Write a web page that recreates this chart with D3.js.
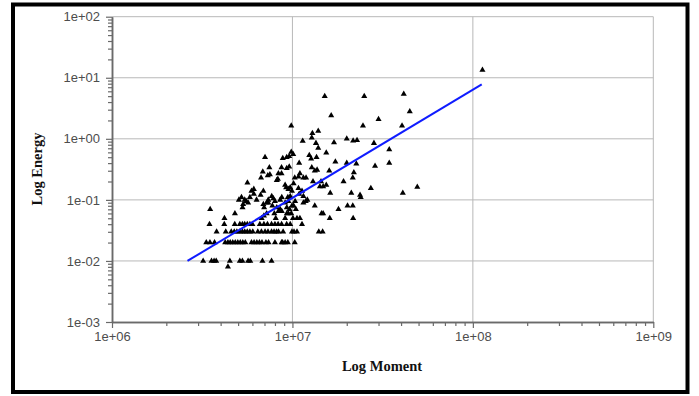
<!DOCTYPE html>
<html>
<head>
<meta charset="utf-8">
<script src="https://cdn.jsdelivr.net/npm/d3@7"></script>
<style>
  html, body { margin: 0; padding: 0; background: #fff; }
  svg { display: block; }
</style>
</head>
<body>
<svg id="chart" width="699" height="396"></svg>
<script>
// Axis ticks (decades) and their printed labels
const xTickValues = [1e6, 1e7, 1e8, 1e9];
const xTickLabels = ["1e+06", "1e+07", "1e+08", "1e+09"];
const yTickValues = [1e-3, 1e-2, 1e-1, 1e0, 1e1, 1e2];
const yTickLabels = ["1e-03", "1e-02", "1e-01", "1e+00", "1e+01", "1e+02"];

// Event moment / energy pairs (parallel arrays)
const moment = [
  // upper and scattered events
  113e6, 15.1e6, 25.0e6, 41.4e6, 16.4e6, 30.0e6, 44.7e6, 24.6e6, 40.5e6, 9.85e6,
  13.9e6, 12.9e6, 12.8e6, 11.4e6, 13.5e6, 13.9e6, 17.0e6, 20.0e6, 21.7e6, 22.8e6,
  28.3e6, 34.4e6, 34.4e6, 28.7e6, 22.6e6, 20.0e6, 17.3e6, 21.9e6, 21.6e6, 19.2e6,
  15.4e6, 13.6e6, 12.4e6, 12.7e6, 10.9e6, 9.3e6, 8.84e6, 9.85e6, 10.1e6, 9.6e6,
  12.8e6, 13.3e6, 13.7e6, 16.0e6, 8.7e6, 9.3e6, 9.6e6, 11.0e6, 11.5e6, 11.9e6,
  10.3e6, 13.0e6, 14.2e6, 14.8e6, 15.4e6, 27.2e6, 49.2e6, 40.9e6, 21.2e6, 23.7e6,
  23.9e6, 16.2e6, 13.3e6, 18.0e6, 20.2e6, 21.6e6, 16.1e6, 21.7e6, 14.5e6, 14.8e6,
  11.0e6,
  // central cluster
  7.05e6, 7.45e6, 6.85e6, 6.7e6, 7.3e6, 8.3e6, 8.7e6, 10.8e6, 5.63e6, 6.11e6,
  9.23e6, 9.5e6, 5.93e6, 5.05e6, 5.22e6, 5.44e6, 5.55e6, 5.68e6, 5.81e6, 5.33e6,
  6.9e6, 7.2e6, 7.35e6, 3.5e6, 4.8e6, 4.2e6, 6.75e6, 6.95e6, 5.29e6, 6.11e6,
  6.9e6, 6.33e6, 6.97e6, 7.68e6, 7.84e6, 8.0e6, 8.19e6, 8.55e6, 8.73e6, 9.31e6,
  9.63e6, 9.11e6, 9.31e6, 9.94e6, 10.07e6, 10.6e6, 11.5e6, 11.85e6, 12.1e6, 9.72e6,
  9.94e6, 10.15e6, 10.9e6, 14.4e6, 9.11e6, 9.72e6, 9.43e6, 8.73e6, 8.55e6, 10.8e6,
  11.3e6, 11.5e6, 9.11e6, 9.5e6, 10.35e6, 7.35e6, 7.74e6, 10.15e6, 10.45e6, 8.36e6,
  7.94e6, 8.08e6, 9.5e6, 9.85e6, 7.2e6, 8.19e6, 8.36e6, 7.5e6, 6.66e6,
  // E = 0.04
  3.47e6, 4.19e6, 4.79e6, 5.11e6, 5.28e6, 5.44e6, 5.62e6, 5.81e6, 6.0e6, 6.6e6,
  6.95e6, 7.27e6, 7.66e6, 8.0e6, 8.33e6, 8.71e6, 9.29e6, 9.72e6, 11.3e6,
  // E = 0.03
  3.8e6, 4.27e6, 4.58e6, 4.76e6, 4.92e6, 5.11e6, 5.28e6, 5.44e6, 5.62e6, 5.81e6,
  6.03e6, 6.43e6, 6.73e6, 7.05e6, 7.32e6, 7.66e6, 7.91e6, 8.17e6, 8.38e6, 8.88e6,
  9.94e6, 10.2e6, 10.6e6, 14.0e6, 14.7e6,
  // E = 0.02
  3.33e6, 3.49e6, 3.7e6, 4.24e6, 4.39e6, 4.52e6, 4.67e6, 4.82e6, 4.98e6, 5.14e6,
  5.31e6, 5.48e6, 5.93e6, 6.13e6, 6.35e6, 6.56e6, 6.78e6, 7.13e6, 7.37e6, 8.0e6,
  8.71e6, 8.82e6, 9.11e6, 9.43e6, 10.3e6,
  // E = 0.01 and below
  3.2e6, 3.56e6, 3.68e6, 3.78e6, 4.5e6, 5.11e6, 5.28e6, 5.68e6, 5.84e6, 6.82e6,
  7.66e6, 4.39e6
];

const energy = [
  13.4, 5.0, 5.0, 5.4, 2.4, 2.1, 2.8, 1.63, 1.63, 1.63,
  1.34, 1.23, 1.04, 0.92, 0.85, 0.71, 0.87, 1.0, 0.93, 0.95,
  0.85, 0.67, 0.40, 0.36, 0.39, 0.40, 0.42, 0.28, 0.23, 0.20,
  0.59, 0.50, 0.54, 0.47, 0.40, 0.50, 0.48, 0.61, 0.56, 0.52,
  0.34, 0.30, 0.31, 0.30, 0.34, 0.33, 0.35, 0.27, 0.23, 0.23,
  0.23, 0.20, 0.165, 0.165, 0.175, 0.155, 0.163, 0.13, 0.13, 0.12,
  0.11, 0.13, 0.08, 0.07, 0.08, 0.08, 0.05, 0.05, 0.06, 0.06,
  0.05,
  0.50, 0.34, 0.29, 0.23, 0.25, 0.22, 0.27, 0.24, 0.19, 0.15,
  0.16, 0.15, 0.14, 0.10, 0.11, 0.10, 0.095, 0.09, 0.11, 0.085,
  0.085, 0.09, 0.10, 0.07, 0.06, 0.05, 0.05, 0.055, 0.075, 0.125,
  0.14, 0.10, 0.075, 0.115, 0.105, 0.095, 0.075, 0.07, 0.065, 0.075,
  0.07, 0.05, 0.06, 0.08, 0.05, 0.05, 0.09, 0.095, 0.10, 0.16,
  0.14, 0.185, 0.125, 0.20, 0.175, 0.115, 0.11, 0.11, 0.10, 0.155,
  0.14, 0.115, 0.09, 0.095, 0.095, 0.09, 0.08, 0.08, 0.07, 0.065,
  0.06, 0.05, 0.06, 0.06, 0.06, 0.21, 0.27, 0.26, 0.12,
  0.04, 0.04, 0.04, 0.04, 0.04, 0.04, 0.04, 0.04, 0.04, 0.04,
  0.04, 0.04, 0.04, 0.04, 0.04, 0.04, 0.04, 0.04, 0.04,
  0.03, 0.03, 0.03, 0.03, 0.03, 0.03, 0.03, 0.03, 0.03, 0.03,
  0.03, 0.03, 0.03, 0.03, 0.03, 0.03, 0.03, 0.03, 0.03, 0.03,
  0.03, 0.03, 0.03, 0.03, 0.03,
  0.02, 0.02, 0.02, 0.02, 0.02, 0.02, 0.02, 0.02, 0.02, 0.02,
  0.02, 0.02, 0.02, 0.02, 0.02, 0.02, 0.02, 0.02, 0.02, 0.02,
  0.02, 0.02, 0.02, 0.02, 0.02,
  0.01, 0.01, 0.01, 0.01, 0.01, 0.01, 0.01, 0.01, 0.01, 0.01,
  0.01, 0.008
];

// Fitted power-law line endpoints
const fitMoment = [2.62e6, 1.12e8];
const fitEnergy = [0.01, 7.8];

const svg = d3.select("#chart");
const box = { left: 112, right: 653.3, top: 16.7, bottom: 322 };

const x = d3.scaleLog().domain([1e6, 1e9]).range([box.left, box.right]);
const y = d3.scaleLog().domain([1e-3, 1e2]).range([box.bottom, box.top]);

const labelFont = "'Liberation Sans', Arial, sans-serif";
const titleFont = "'Liberation Serif', 'Times New Roman', serif";
const axisColor = "#6a6a6a";
const gridColor = "#b8b8b8";

// outer frame
svg.append("rect")
  .attr("x", 13).attr("y", 4.5)
  .attr("width", 674.5).attr("height", 387.5)
  .attr("fill", "none").attr("stroke", "#000").attr("stroke-width", 4);

// grid lines at each decade
const grid = svg.append("g").attr("stroke", gridColor).attr("stroke-width", 1);
grid.selectAll("line.h").data(yTickValues.slice(1)).join("line")
  .attr("x1", box.left).attr("x2", box.right)
  .attr("y1", d => y(d)).attr("y2", d => y(d));
grid.selectAll("line.v").data(xTickValues.slice(1)).join("line")
  .attr("y1", box.top).attr("y2", box.bottom)
  .attr("x1", d => x(d)).attr("x2", d => x(d));

// minor tick positions (2..9 within each decade)
function minorTicks(lo, hi) {
  const out = [];
  for (let d = lo; d < hi; d *= 10) {
    for (let k = 2; k <= 9; k++) out.push(k * d);
  }
  return out;
}

function styleAxis(g) {
  g.select(".domain").attr("stroke", axisColor).attr("stroke-width", 1.5);
  g.selectAll(".tick line").attr("stroke", axisColor).attr("stroke-width", 1.2);
  g.selectAll(".tick text")
    .attr("fill", "#4d4d4d")
    .style("font-family", labelFont)
    .style("font-size", "13px");
}

// minor ticks
svg.append("g").attr("transform", `translate(0,${box.bottom})`)
  .call(d3.axisBottom(x).tickValues(minorTicks(1e6, 1e9)).tickFormat("").tickSize(4).tickSizeOuter(0))
  .call(styleAxis);
svg.append("g").attr("transform", `translate(${box.left},0)`)
  .call(d3.axisLeft(y).tickValues(minorTicks(1e-3, 1e2)).tickFormat("").tickSize(4).tickSizeOuter(0))
  .call(styleAxis);

// major ticks with labels
svg.append("g").attr("transform", `translate(0,${box.bottom})`)
  .call(d3.axisBottom(x).tickValues(xTickValues)
    .tickFormat((d, i) => xTickLabels[i]).tickSize(6).tickSizeOuter(0).tickPadding(4))
  .call(styleAxis);
svg.append("g").attr("transform", `translate(${box.left},0)`)
  .call(d3.axisLeft(y).tickValues(yTickValues)
    .tickFormat((d, i) => yTickLabels[i]).tickSize(6).tickSizeOuter(0).tickPadding(6))
  .call(styleAxis);

// scatter points
const tri = d3.symbol().type(d3.symbolTriangle).size(16);
svg.append("g").attr("fill", "#000")
  .selectAll("path").data(moment.map((m, i) => [m, energy[i]])).join("path")
  .attr("d", tri)
  .attr("transform", d => `translate(${x(d[0])},${y(d[1])})`);

// fitted line
svg.append("path")
  .datum(fitMoment.map((m, i) => [m, fitEnergy[i]]))
  .attr("fill", "none")
  .attr("stroke", "#0f1cff")
  .attr("stroke-width", 2)
  .attr("d", d3.line().x(d => x(d[0])).y(d => y(d[1])));

// axis titles
svg.append("text")
  .attr("x", 382).attr("y", 371)
  .attr("text-anchor", "middle")
  .style("font-family", titleFont).style("font-weight", "bold").style("font-size", "14.5px")
  .attr("fill", "#111")
  .text("Log Moment");
svg.append("text")
  .attr("transform", "translate(41.5,169) rotate(-90)")
  .attr("text-anchor", "middle")
  .style("font-family", titleFont).style("font-weight", "bold").style("font-size", "14.5px")
  .attr("fill", "#111")
  .text("Log Energy");
</script>
</body>
</html>
